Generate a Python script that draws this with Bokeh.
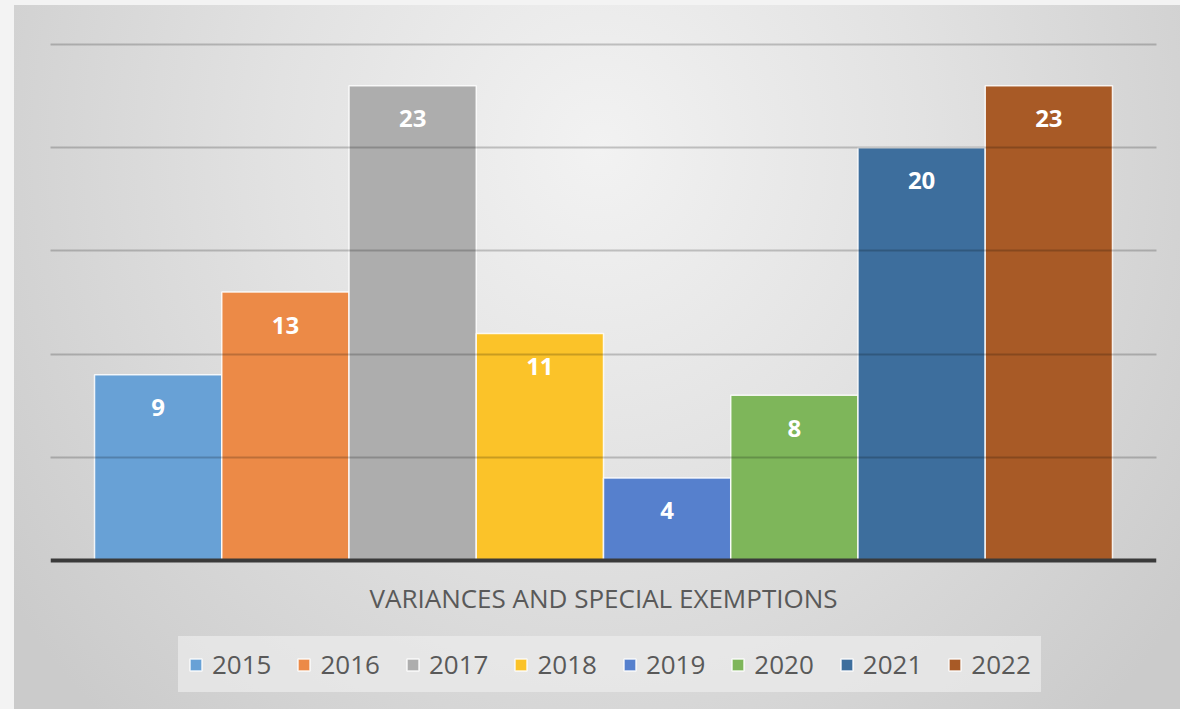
from bokeh.plotting import figure
from bokeh.models import (ColumnDataSource, FactorRange, Range1d, LabelSet, Legend,
                          LegendItem, FixedTicker, Span)
from bokeh.transform import dodge
from bokeh.core.properties import value
from bokeh.embed import file_html
from bokeh.resources import INLINE

category = "VARIANCES AND SPECIAL EXEMPTIONS"
years = ["2015", "2016", "2017", "2018", "2019", "2020", "2021", "2022"]
counts = [9, 13, 23, 11, 4, 8, 20, 23]
colors = ["#68a1d6", "#ec8a47", "#adadad", "#fbc329", "#5680cd",
          "#7eb65a", "#3d6e9d", "#a85a26"]
grid_ticks = [5, 10, 15, 20, 25]

FONT = "Open Sans"

p = figure(width=1180, height=709,
           x_range=FactorRange(factors=[category], range_padding=0.0865),
           y_range=Range1d(-7.22, 25.19),
           x_axis_location=None, y_axis_location=None,
           output_backend="svg", toolbar_location=None,
           min_border_left=50, min_border_right=24,
           min_border_top=40, min_border_bottom=0)

p.background_fill_alpha = 0
p.border_fill_alpha = 0
p.outline_line_color = None
p.styles = {"background": (
    "linear-gradient(#f3f3f3,#f3f3f3) 0 0 / 14px 100% no-repeat, "
    "linear-gradient(#f3f3f3,#f3f3f3) 0 0 / 100% 5px no-repeat, "
    "radial-gradient(ellipse 61% 111% at 50.8% 21%, #f2f2f2 0%, #e2e2e2 45%, #cbcbcb 100%)")}

p.xgrid.visible = False
p.ygrid.ticker = FixedTicker(ticks=grid_ticks)
p.ygrid.grid_line_color = "#000000"
p.ygrid.grid_line_alpha = 0.2
p.ygrid.grid_line_width = 2
p.ygrid.level = "overlay"

n = len(years)
width = 1.0 / n
items = []
for i, (yr, c, col) in enumerate(zip(years, counts, colors)):
    off = (i - (n - 1) / 2) * width
    src = ColumnDataSource(data=dict(cat=[category], value=[c], label=[str(c)]))
    r = p.vbar(x=dodge("cat", off, range=p.x_range), top="value", bottom=0,
               width=width, source=src, fill_color=col, line_color="white",
               line_width=1.5, line_alpha=0.85)
    items.append(LegendItem(label=yr, renderers=[r]))
    labels = LabelSet(x=dodge("cat", off, range=p.x_range), y="value", text="label",
                      source=src, text_align="center", text_baseline="middle",
                      y_offset=-33, text_color="white", text_font=value(FONT),
                      text_font_style="bold", text_font_size="24px")
    p.add_layout(labels)

# baseline (category axis line)
p.add_layout(Span(location=0, dimension="width", line_color="#3a3a3a",
                  line_width=4, level="overlay"))

# category label under the axis line
cat_src = ColumnDataSource(data=dict(cat=[category], base=[0]))
p.add_layout(LabelSet(x="cat", y="base", text="cat", source=cat_src,
                      text_align="center", text_baseline="middle", y_offset=-38,
                      text_color="#595959", text_font=value(FONT),
                      text_font_size="26px"))

legend = Legend(items=items, orientation="horizontal", location=(128, 17))
legend.label_text_font = FONT
legend.label_text_font_size = "26px"
legend.label_text_color = "#595959"
legend.glyph_width = 15
legend.glyph_height = 15
legend.label_standoff = 9
legend.spacing = 25
legend.padding = 10
legend.margin = 0
legend.background_fill_color = "#ececec"
legend.background_fill_alpha = 0.7
legend.border_line_alpha = 0
p.add_layout(legend, "center")

open("out.html", "w").write(file_html(p, INLINE))
